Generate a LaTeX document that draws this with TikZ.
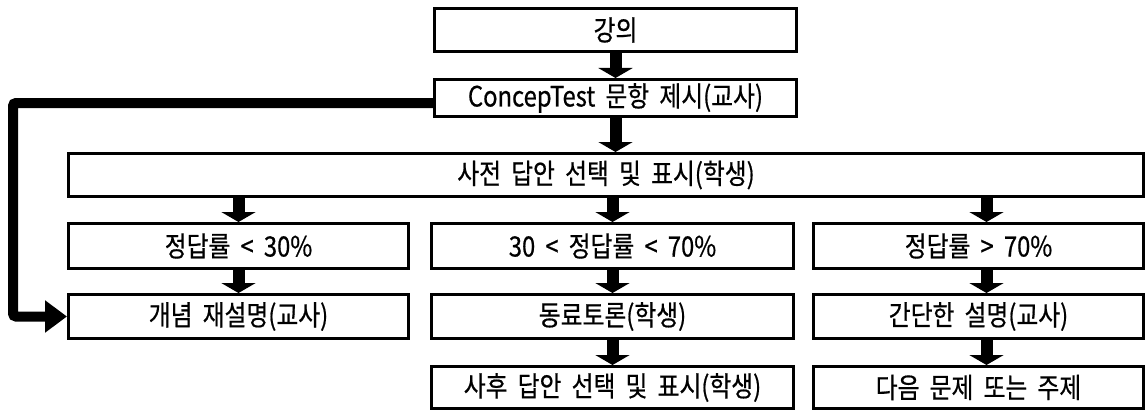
\documentclass[tikz,border=0pt]{standalone}
\usepackage{fontspec}
\newfontfamily\kr[FakeStretch=0.85,WordSpace=1.9,FakeBold=0.6]{Noto Sans CJK KR}
\usetikzlibrary{arrows.meta}
\tikzset{
  box/.style={draw, line width=3pt, inner sep=0pt, font=\kr\fontsize{28}{30}\selectfont},
  blk/.style={line width=12pt, -{Triangle[width=34pt,length=10pt]}},
  fb/.style={line width=10pt, rounded corners=3pt, -{Triangle[width=31pt,length=22pt]}}
}
\begin{document}
\begin{tikzpicture}[x=1pt,y=-1pt]
\useasboundingbox (0,0) rectangle (1148,412);
\node[box, minimum width=362pt, minimum height=43pt] (lec) at (615.5,30) {강의};
\node[box, minimum width=362pt, minimum height=37pt] (ct) at (615.5,98) {ConcepTest 문항 제시(교사)};
\node[box, minimum width=1075pt, minimum height=43pt] (sa) at (606,175) {사전 답안 선택 및 표시(학생)};
% row 2
\node[box, minimum width=340pt, minimum height=45pt] (la) at (238.5,246) {정답률 < 30\%};
\node[box, minimum width=362pt, minimum height=45pt] (ma) at (612.5,246) {30 < 정답률 < 70\%};
\node[box, minimum width=330pt, minimum height=45pt] (ra) at (978.5,246) {정답률 > 70\%};
% row 3
\node[box, minimum width=340pt, minimum height=44pt] (lb) at (238.5,316.5) {개념 재설명(교사)};
\node[box, minimum width=362pt, minimum height=44pt] (mb) at (612.5,316.5) {동료토론(학생)};
\node[box, minimum width=330pt, minimum height=44pt] (rb) at (978.5,316.5) {간단한 설명(교사)};
% row 4
\node[box, minimum width=362pt, minimum height=42pt] (mc) at (612.5,387.5) {사후 답안 선택 및 표시(학생)};
\node[box, minimum width=330pt, minimum height=42pt] (rc) at (978.5,387.5) {다음 문제 또는 주제};
% arrows
\draw[blk] (lec.south) -- (ct.north);
\draw[blk] (ct.south) -- (ct.south |- sa.north);
\draw[blk] (sa.south -| la.north) -- (la.north);
\draw[blk] (sa.south -| ma.north) -- (ma.north);
\draw[blk] ([xshift=8pt]sa.south -| ra.north) -- ([xshift=8pt]ra.north);
\draw[blk] (la.south) -- (lb.north);
\draw[blk] (ma.south) -- (mb.north);
\draw[blk] ([xshift=8pt]ra.south) -- ([xshift=8pt]rb.north);
\draw[blk] (mb.south) -- (mc.north);
\draw[blk] ([xshift=8pt]rb.south) -- ([xshift=8pt]rc.north);
\coordinate (c1) at (13,103);
\coordinate (c2) at (13,316.5);
\draw[fb] (ct.west |- c1) -- (c1) -- (c2) -- (lb.west);
\end{tikzpicture}
\end{document}
